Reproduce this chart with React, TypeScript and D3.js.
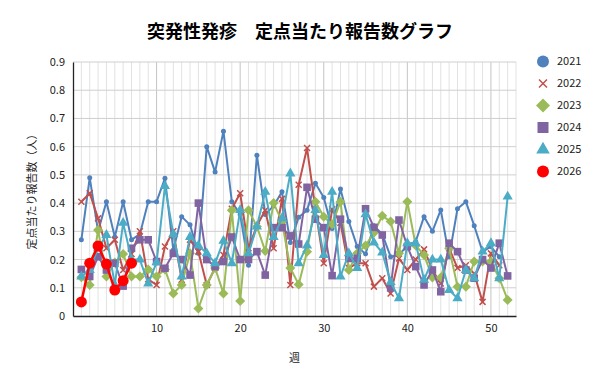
import { useEffect, useRef } from 'react'
import * as d3 from 'd3'

const years = ['2021', '2022', '2023', '2024', '2025', '2026']
const colors = ['#4F81BD', '#C0504D', '#9BBB59', '#8064A2', '#4BACC6', '#FF0000']
const markers = ['dot', 'cross', 'diamond', 'square', 'triangle', 'bigdot']

const v2021 = [0.27, 0.49, 0.3, 0.405, 0.28, 0.405, 0.27, 0.29, 0.405, 0.405, 0.488, 0.234, 0.352, 0.323, 0.222, 0.6, 0.51, 0.655, 0.405, 0.36, 0.18, 0.57, 0.36, 0.39, 0.44, 0.26, 0.35, 0.375, 0.47, 0.42, 0.31, 0.45, 0.335, 0.246, 0.22, 0.32, 0.29, 0.21, 0.216, 0.25, 0.264, 0.352, 0.3, 0.376, 0.21, 0.38, 0.405, 0.32, 0.228, 0.246, 0.21]
const v2022 = [0.405, 0.435, 0.346, 0.24, 0.27, 0.163, 0.22, 0.3, 0.13, 0.11, 0.246, 0.3, 0.128, 0.27, 0.228, 0.11, 0.17, 0.216, 0.38, 0.435, 0.24, 0.32, 0.375, 0.24, 0.415, 0.11, 0.465, 0.595, 0.38, 0.187, 0.378, 0.33, 0.17, 0.187, 0.187, 0.104, 0.134, 0.08, 0.204, 0.163, 0.2, 0.236, 0.163, 0.115, 0.24, 0.17, 0.18, 0.15, 0.05, 0.222, 0.18]
const v2023 = [0.137, 0.11, 0.305, 0.14, 0.19, 0.22, 0.14, 0.14, 0.165, 0.14, 0.165, 0.08, 0.11, 0.222, 0.027, 0.11, 0.17, 0.08, 0.375, 0.053, 0.375, 0.317, 0.23, 0.4, 0.335, 0.17, 0.112, 0.228, 0.405, 0.352, 0.325, 0.405, 0.163, 0.222, 0.25, 0.295, 0.355, 0.335, 0.222, 0.405, 0.25, 0.216, 0.136, 0.136, 0.24, 0.104, 0.104, 0.193, 0.193, 0.193, 0.134, 0.057]
const v2024 = [0.165, 0.14, 0.21, 0.163, 0.187, 0.106, 0.24, 0.27, 0.27, 0.193, 0.169, 0.222, 0.2, 0.145, 0.4, 0.2, 0.175, 0.193, 0.28, 0.2, 0.2, 0.228, 0.145, 0.313, 0.313, 0.284, 0.255, 0.456, 0.343, 0.313, 0.143, 0.343, 0.204, 0.204, 0.38, 0.314, 0.287, 0.1, 0.34, 0.246, 0.175, 0.11, 0.163, 0.086, 0.258, 0.228, 0.163, 0.134, 0.2, 0.17, 0.258, 0.142]
const v2025 = [0.14, 0.163, 0.24, 0.287, 0.11, 0.33, 0.2, 0.2, 0.115, 0.19, 0.46, 0.29, 0.14, 0.28, 0.25, 0.222, 0.187, 0.266, 0.187, 0.375, 0.222, 0.317, 0.44, 0.28, 0.346, 0.505, 0.187, 0.25, 0.375, 0.216, 0.44, 0.14, 0.222, 0.17, 0.36, 0.26, 0.225, 0.12, 0.063, 0.258, 0.258, 0.128, 0.2, 0.2, 0.092, 0.063, 0.163, 0.134, 0.228, 0.258, 0.134, 0.423]
const v2026 = [0.05, 0.187, 0.248, 0.184, 0.092, 0.125, 0.187]
const series = [v2021, v2022, v2023, v2024, v2025, v2026]

const yTicks = [0, 0.1, 0.2, 0.3, 0.4, 0.5, 0.6, 0.7, 0.8, 0.9]
const xTicks = [10, 20, 30, 40, 50]

const W = 600, H = 384
const M = { left: 73, right: 84, top: 62, bottom: 68 }
const FONT = '"Noto Sans CJK JP", "Noto Sans", sans-serif'

function drawMarker(g: any, kind: string, x: number, y: number, color: string, legend = false) {
  if (kind === 'dot') {
    g.append('circle').attr('cx', x).attr('cy', y).attr('r', legend ? 6 : 2.5).attr('fill', color)
  } else if (kind === 'bigdot') {
    g.append('circle').attr('cx', x).attr('cy', y).attr('r', legend ? 6 : 5.5).attr('fill', color)
  } else if (kind === 'cross') {
    const s = legend ? 4 : 3
    g.append('path').attr('d', `M${x - s},${y - s}L${x + s},${y + s}M${x - s},${y + s}L${x + s},${y - s}`)
      .attr('stroke', color).attr('stroke-width', 1.5)
  } else if (kind === 'diamond') {
    const s = legend ? 7 : 5
    g.append('path').attr('d', `M${x},${y - s}L${x + s},${y}L${x},${y + s}L${x - s},${y}Z`)
      .attr('fill', color)
  } else if (kind === 'square') {
    const s = legend ? 5.5 : 3.8
    g.append('rect').attr('x', x - s).attr('y', y - s).attr('width', 2 * s).attr('height', 2 * s).attr('fill', color)
  } else if (kind === 'triangle') {
    g.append('path').attr('d', d3.symbol(d3.symbolTriangle, legend ? 80 : 45)()).attr('transform', `translate(${x},${y})`)
      .attr('fill', color)
  }
}

export default function App() {
  const svgRef = useRef<SVGSVGElement>(null)

  useEffect(() => {
    const svg = d3.select(svgRef.current)
    svg.selectAll('*').remove()

    const x = d3.scaleLinear().domain([0, 53]).range([M.left, W - M.right])
    const y = d3.scaleLinear().domain([0, 0.9]).range([H - M.bottom, M.top])

    svg.append('rect').attr('width', W).attr('height', H).attr('fill', '#fff')

    // title
    svg.append('text').attr('x', 300).attr('y', 38).attr('text-anchor', 'middle')
      .attr('font-family', FONT).attr('font-size', 18).attr('font-weight', 700).attr('fill', '#000')
      .text('突発性発疹　定点当たり報告数グラフ')

    // grid
    const grid = svg.append('g')
    d3.range(1, 54).forEach(w => {
      grid.append('line').attr('x1', x(w)).attr('x2', x(w)).attr('y1', y(0.9)).attr('y2', y(0))
        .attr('stroke', w % 10 === 0 ? '#c4c4c4' : '#e2e2e2').attr('stroke-width', 1)
    })
    yTicks.slice(1).forEach(t => {
      grid.append('line').attr('x1', x(0)).attr('x2', x(53)).attr('y1', y(t)).attr('y2', y(t))
        .attr('stroke', '#cfcfcf').attr('stroke-width', 1)
    })

    // axes
    const yAxis = svg.append('g').attr('transform', `translate(${x(0)},0)`)
      .call(d3.axisLeft(y).tickValues(yTicks).tickSize(0).tickPadding(8).tickFormat(d => d3.format('')(+d)))
    yAxis.select('.domain').attr('stroke', '#222').attr('stroke-width', 1.3)
    yAxis.selectAll('text').attr('font-family', FONT).attr('font-size', 11).attr('fill', '#222')

    const xAxis = svg.append('g').attr('transform', `translate(0,${y(0)})`)
      .call(d3.axisBottom(x).tickValues(xTicks).tickSize(0).tickPadding(8))
    xAxis.select('.domain').attr('stroke', '#222').attr('stroke-width', 1.3)
    xAxis.selectAll('text').attr('font-family', FONT).attr('font-size', 11).attr('fill', '#222')

    // axis titles
    svg.append('text').attr('transform', `translate(36,${(y(0) + y(0.9)) / 2}) rotate(-90)`)
      .attr('text-anchor', 'middle').attr('font-family', FONT).attr('font-size', 11).attr('fill', '#222')
      .text('定点当たり報告数（人）')
    svg.append('text').attr('x', x(26.5)).attr('y', 362).attr('text-anchor', 'middle')
      .attr('font-family', FONT).attr('font-size', 11).attr('fill', '#222').text('週')

    // series
    const line = d3.line<number>().x((_, i) => x(i + 1)).y(d => y(d))
    series.forEach((vals, si) => {
      const g = svg.append('g')
      g.append('path').attr('d', line(vals)).attr('fill', 'none')
        .attr('stroke', colors[si]).attr('stroke-width', si === 5 ? 2.5 : 2).attr('stroke-linejoin', 'round')
      vals.forEach((v, i) => drawMarker(g, markers[si], x(i + 1), y(v), colors[si]))
    })

    // legend
    const lg = svg.append('g')
    years.forEach((yr, i) => {
      const cy = 61.5 + i * 22
      drawMarker(lg, markers[i], 543, cy, colors[i], true)
      lg.append('text').attr('x', 557).attr('y', cy).attr('dy', '0.35em')
        .attr('font-family', FONT).attr('font-size', 11).attr('fill', '#222').text(yr)
    })
  }, [])

  return (
    <svg ref={svgRef} width={W} height={H}
      style={{ position: 'absolute', left: 0, top: 0, display: 'block' }} />
  )
}
